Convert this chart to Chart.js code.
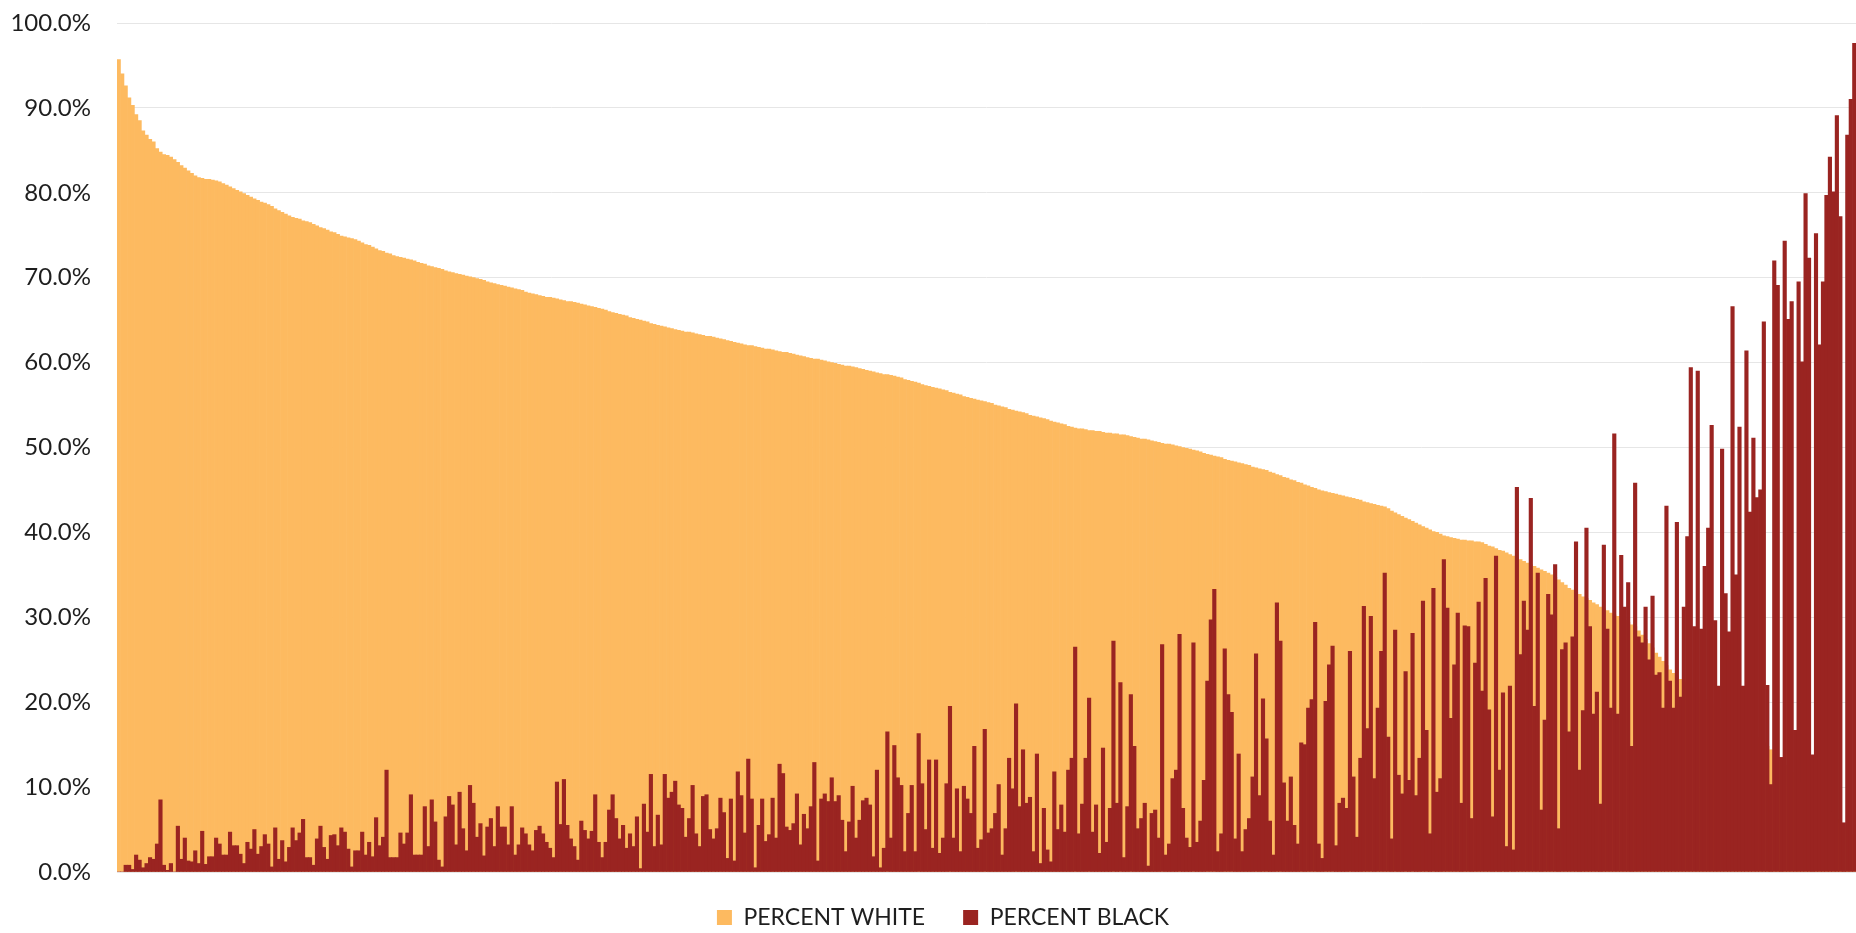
<!DOCTYPE html>
<html>
<head>
<meta charset="utf-8">
<script src="https://cdn.jsdelivr.net/npm/chart.js@4/dist/chart.umd.min.js"></script>
<style>
  html, body { margin: 0; padding: 0; background: #ffffff; }
  #wrap { width: 1856px; height: 933px; position: relative; }
</style>
</head>
<body>
<div id="wrap"><canvas id="race-chart"></canvas></div>
<script>
// share of white residents, one bar per area, sorted high to low
const percentWhite = [
  95.7, 94.0, 92.6, 91.2, 90.3, 89.2, 88.5, 87.3, 86.8, 86.3,
  86.0, 85.2, 84.8, 84.5, 84.4, 84.2, 83.9, 83.6, 83.2, 82.9,
  82.6, 82.3, 82.0, 81.8, 81.7, 81.6, 81.6, 81.5, 81.4, 81.3,
  81.1, 80.9, 80.7, 80.5, 80.3, 80.1, 79.9, 79.7, 79.5, 79.3,
  79.1, 78.9, 78.8, 78.6, 78.4, 78.1, 77.9, 77.7, 77.5, 77.3,
  77.1, 77.0, 76.9, 76.7, 76.6, 76.5, 76.3, 76.1, 75.9, 75.8,
  75.6, 75.4, 75.3, 75.1, 74.9, 74.8, 74.7, 74.6, 74.5, 74.3,
  74.1, 73.9, 73.8, 73.6, 73.4, 73.2, 73.1, 72.9, 72.8, 72.6,
  72.5, 72.4, 72.3, 72.2, 72.1, 72.0, 71.8, 71.7, 71.6, 71.4,
  71.3, 71.2, 71.1, 71.0, 70.8, 70.7, 70.6, 70.5, 70.4, 70.3,
  70.2, 70.1, 70.0, 69.9, 69.8, 69.7, 69.5, 69.4, 69.3, 69.2,
  69.1, 69.0, 68.9, 68.8, 68.7, 68.6, 68.5, 68.3, 68.2, 68.1,
  68.0, 67.9, 67.8, 67.7, 67.7, 67.6, 67.5, 67.4, 67.3, 67.2,
  67.2, 67.1, 67.0, 66.9, 66.8, 66.7, 66.6, 66.5, 66.4, 66.3,
  66.2, 66.0, 65.9, 65.8, 65.7, 65.6, 65.5, 65.3, 65.2, 65.1,
  65.0, 64.9, 64.8, 64.6, 64.5, 64.4, 64.3, 64.2, 64.1, 64.0,
  63.9, 63.8, 63.7, 63.6, 63.6, 63.5, 63.4, 63.3, 63.2, 63.1,
  63.1, 63.0, 62.9, 62.8, 62.7, 62.6, 62.5, 62.4, 62.3, 62.2,
  62.1, 62.0, 62.0, 61.9, 61.8, 61.7, 61.6, 61.6, 61.5, 61.4,
  61.3, 61.2, 61.2, 61.1, 61.0, 60.9, 60.8, 60.7, 60.6, 60.5,
  60.4, 60.4, 60.3, 60.2, 60.1, 60.0, 59.9, 59.8, 59.7, 59.6,
  59.6, 59.5, 59.4, 59.3, 59.2, 59.1, 59.0, 58.9, 58.8, 58.7,
  58.6, 58.6, 58.5, 58.4, 58.3, 58.2, 58.0, 57.9, 57.8, 57.7,
  57.6, 57.4, 57.3, 57.2, 57.1, 57.0, 56.9, 56.8, 56.7, 56.5,
  56.4, 56.3, 56.2, 56.0, 55.9, 55.8, 55.7, 55.6, 55.5, 55.4,
  55.3, 55.2, 55.0, 54.9, 54.8, 54.7, 54.5, 54.4, 54.3, 54.2,
  54.1, 54.0, 53.8, 53.7, 53.6, 53.5, 53.4, 53.3, 53.1, 53.0,
  52.9, 52.8, 52.7, 52.5, 52.4, 52.3, 52.2, 52.2, 52.1, 52.0,
  52.0, 51.9, 51.9, 51.8, 51.7, 51.7, 51.6, 51.6, 51.5, 51.5,
  51.4, 51.3, 51.2, 51.1, 51.0, 51.0, 50.9, 50.8, 50.7, 50.6,
  50.5, 50.4, 50.4, 50.3, 50.2, 50.1, 50.0, 49.9, 49.8, 49.7,
  49.6, 49.5, 49.3, 49.2, 49.1, 49.0, 48.9, 48.8, 48.6, 48.5,
  48.4, 48.3, 48.2, 48.1, 48.0, 47.9, 47.7, 47.6, 47.5, 47.4,
  47.3, 47.1, 47.0, 46.8, 46.7, 46.5, 46.4, 46.2, 46.1, 45.9,
  45.8, 45.6, 45.5, 45.3, 45.2, 45.0, 44.9, 44.8, 44.7, 44.6,
  44.5, 44.4, 44.3, 44.2, 44.1, 44.0, 43.9, 43.8, 43.6, 43.5,
  43.4, 43.3, 43.2, 43.1, 43.0, 42.8, 42.5, 42.3, 42.1, 41.9,
  41.7, 41.5, 41.3, 41.1, 40.9, 40.7, 40.5, 40.3, 40.1, 40.0,
  39.8, 39.6, 39.5, 39.4, 39.3, 39.2, 39.1, 39.1, 39.0, 39.0,
  38.9, 38.9, 38.8, 38.6, 38.4, 38.3, 38.1, 37.9, 37.8, 37.6,
  37.4, 37.2, 37.0, 36.8, 36.6, 36.4, 36.2, 36.0, 35.8, 35.6,
  35.4, 35.2, 35.0, 34.7, 34.4, 34.1, 33.8, 33.4, 33.2, 32.9,
  32.7, 32.4, 32.2, 32.0, 31.7, 31.5, 31.2, 31.0, 30.8, 30.5,
  30.3, 30.1, 29.8, 29.6, 29.4, 29.1, 28.9, 28.4, 27.9, 27.4,
  26.9, 26.4, 25.8, 25.3, 24.8, 24.3, 23.8, 23.4, 23.1, 22.7,
  22.4, 22.0, 21.7, 21.3, 21.0, 20.6, 20.3, 20.1, 19.8, 19.5,
  19.3, 19.0, 18.8, 18.5, 18.2, 18.0, 17.7, 17.4, 17.0, 16.7,
  16.3, 15.9, 15.5, 15.2, 14.8, 14.4, 13.9, 13.5, 13.1, 12.6,
  12.2, 11.8, 11.3, 10.9, 10.5, 10.0, 9.6, 9.2, 8.8, 8.4,
  8.0, 7.5, 7.1, 6.6, 6.2, 5.7, 5.3, 4.8, 4.4, 3.9
];

// share of black residents for the same areas
const percentBlack = [
  0, 0, 0.8, 0.8, 0.3, 2.0, 1.4, 0.5, 1.0, 1.7,
  1.5, 3.3, 8.5, 0.8, 0.2, 1.0, 0, 5.4, 1.5, 4.0,
  1.3, 1.2, 2.5, 1.0, 4.8, 0.9, 1.8, 1.8, 4.0, 3.3,
  2.0, 2.0, 4.7, 3.1, 3.1, 2.1, 1.0, 3.5, 2.7, 5.0,
  2.1, 3.0, 4.4, 3.3, 0.6, 5.2, 1.5, 3.7, 1.2, 2.9,
  5.2, 3.7, 4.6, 6.2, 1.7, 1.7, 0.8, 3.9, 5.4, 2.9,
  1.5, 4.3, 4.4, 3.1, 5.2, 4.7, 2.7, 0.6, 2.5, 2.5,
  4.7, 2.0, 3.5, 1.8, 6.4, 3.1, 4.1, 12.0, 1.7, 1.7,
  1.7, 4.6, 3.3, 4.6, 9.1, 2.0, 2.0, 2.0, 7.7, 3.0,
  8.5, 5.9, 1.4, 0.6, 6.5, 8.9, 7.9, 3.2, 9.4, 5.1,
  2.5, 10.2, 8.1, 4.1, 5.7, 1.9, 5.3, 6.3, 3.0, 7.7,
  5.3, 5.3, 3.2, 7.7, 2.0, 3.2, 5.2, 4.5, 3.2, 2.5,
  4.9, 5.4, 4.5, 3.5, 2.8, 1.7, 10.6, 5.6, 10.9, 5.5,
  3.9, 3.0, 1.4, 6.0, 4.9, 3.9, 4.8, 9.1, 3.5, 1.7,
  3.5, 7.3, 9.1, 6.3, 3.9, 5.5, 2.8, 4.5, 3.0, 6.5,
  0.4, 8.0, 4.7, 11.5, 3.0, 6.7, 3.2, 11.5, 8.7, 9.4,
  10.7, 7.9, 7.5, 4.1, 6.3, 10.2, 4.5, 3.0, 8.9, 9.1,
  5.0, 3.9, 5.1, 8.7, 7.0, 1.6, 8.6, 1.3, 11.8, 9.0,
  4.6, 13.3, 8.6, 0.5, 5.5, 8.6, 3.6, 4.4, 8.7, 4.0,
  12.7, 11.6, 5.3, 4.9, 5.7, 9.2, 3.2, 6.8, 5.1, 7.7,
  12.9, 1.3, 8.6, 9.2, 8.3, 11.1, 8.3, 9.0, 6.1, 2.4,
  5.9, 10.1, 4.0, 6.1, 8.4, 8.7, 7.9, 1.8, 12.0, 0.5,
  2.8, 16.5, 4.0, 14.9, 11.1, 10.2, 2.4, 6.9, 10.2, 2.4,
  16.3, 10.4, 5.0, 13.2, 2.8, 13.2, 2.2, 4.0, 10.4, 19.5,
  4.0, 9.8, 2.4, 10.1, 8.6, 6.9, 14.8, 2.8, 3.8, 16.8,
  4.6, 5.1, 6.9, 10.3, 2.0, 5.1, 13.4, 9.8, 19.8, 7.7,
  14.4, 8.1, 8.8, 2.4, 13.9, 1.0, 7.5, 2.6, 1.2, 11.8,
  5.0, 7.9, 4.7, 12.0, 13.4, 26.5, 4.5, 8.0, 13.4, 20.5,
  4.7, 7.9, 2.2, 14.6, 3.5, 7.5, 27.2, 8.1, 22.3, 1.7,
  7.7, 20.9, 14.8, 5.1, 6.3, 8.1, 0.7, 6.9, 7.3, 4.0,
  26.8, 2.0, 3.3, 11.0, 12.0, 28.0, 7.5, 4.0, 2.9, 27.0,
  3.5, 6.0, 10.8, 22.5, 29.7, 33.3, 2.4, 4.5, 26.3, 20.9,
  18.8, 3.9, 13.9, 2.4, 5.0, 6.3, 11.2, 25.7, 9.0, 20.4,
  15.7, 6.0, 2.0, 31.7, 27.2, 10.5, 6.0, 11.2, 5.5, 3.3,
  15.2, 15.0, 19.3, 20.3, 29.4, 3.3, 1.6, 20.1, 24.4, 26.6,
  3.1, 8.1, 8.7, 7.5, 26.0, 11.2, 4.1, 13.4, 31.3, 16.9,
  30.1, 11.0, 19.3, 26.0, 35.2, 15.9, 3.9, 28.5, 11.4, 9.2,
  23.6, 10.8, 28.1, 9.0, 13.4, 31.9, 16.7, 4.5, 33.4, 9.4,
  11.0, 36.8, 31.1, 18.1, 24.4, 30.5, 8.1, 29.0, 28.9, 6.3,
  24.6, 31.8, 21.3, 34.6, 19.1, 6.5, 37.2, 12.0, 21.1, 3.0,
  21.9, 2.6, 45.3, 25.6, 31.9, 28.5, 44.0, 19.5, 35.2, 7.3,
  17.9, 32.7, 30.3, 36.2, 5.1, 26.2, 27.0, 16.5, 27.7, 38.9,
  12.0, 19.0, 40.5, 28.9, 18.6, 21.2, 8.0, 38.5, 28.6, 19.3,
  51.6, 18.6, 37.3, 31.2, 34.1, 14.8, 45.8, 27.7, 27.0, 31.2,
  25.0, 32.5, 23.2, 23.5, 19.3, 43.1, 22.5, 19.3, 41.2, 20.6,
  31.2, 39.5, 59.4, 28.9, 59.0, 28.6, 36.0, 40.5, 52.6, 29.6,
  21.9, 49.8, 32.8, 28.3, 66.6, 35.0, 52.4, 21.9, 61.4, 42.4,
  51.1, 44.1, 45.0, 64.8, 22.0, 10.3, 72.0, 69.1, 13.5, 74.3,
  65.1, 67.2, 16.7, 69.5, 60.1, 79.9, 72.3, 13.8, 75.2, 62.1,
  69.5, 79.7, 84.2, 80.1, 89.1, 77.2, 5.8, 86.8, 91.0, 97.6
];

// areas have no printed names, just their rank
const areaRank = percentWhite.map((_, i) => String(i + 1));

const seriesNames = ["PERCENT BLACK", "PERCENT WHITE"];
const yMin = 0;
const yMax = 100;
const yStep = 10;

const WHITE_COLOR = "#FDBA60";
const BLACK_COLOR = "#9A2421";
const FONT = "Lato, 'Open Sans', sans-serif";

// the legend sits a bit right of centre in the original
const legendShift = {
    id: "legendShift",
    afterLayout(chart) {
        const lg = chart.legend;
        if (lg) {
            lg.left += 15;
            lg.right += 15;
            lg.top -= 4;
            lg.bottom -= 4;
        }
    }
};

const ctx = document.getElementById("race-chart");

new Chart(ctx, {
    type: "bar",
    data: {
        labels: areaRank,
        datasets: [
            {
                label: seriesNames[0],
                data: percentBlack,
                backgroundColor: BLACK_COLOR,
                borderWidth: 0,
                barPercentage: 1,
                categoryPercentage: 1,
                grouped: false
            },
            {
                label: seriesNames[1],
                data: percentWhite,
                backgroundColor: WHITE_COLOR,
                borderWidth: 0,
                barPercentage: 1,
                categoryPercentage: 1,
                grouped: false
            }
        ]
    },
    options: {
        responsive: true,
        maintainAspectRatio: false,
        animation: false,
        layout: {
            padding: { top: 23, right: 0, bottom: 1, left: 0 }
        },
        plugins: {
            tooltip: { enabled: false },
            legend: {
                position: "bottom",
                reverse: true,
                maxHeight: 60,
                labels: {
                    font: { family: FONT, size: 23 },
                    color: "#1e1e1e",
                    boxWidth: 15,
                    boxHeight: 15,
                    padding: 38
                }
            }
        },
        scales: {
            x: {
                display: false,
                grid: { display: false }
            },
            y: {
                min: yMin,
                max: yMax,
                afterFit(scale) {
                    scale.width = 117;
                    scale.paddingTop = 0;
                },
                border: { display: false },
                grid: {
                    color: "#e6e6e6",
                    lineWidth: 1,
                    drawTicks: false
                },
                ticks: {
                    stepSize: yStep,
                    padding: 26,
                    color: "#1e1e1e",
                    font: { family: FONT, size: 24 },
                    callback: (v) => v.toFixed(1) + "%"
                }
            }
        }
    },
    plugins: [legendShift]
});
</script>
</body>
</html>
